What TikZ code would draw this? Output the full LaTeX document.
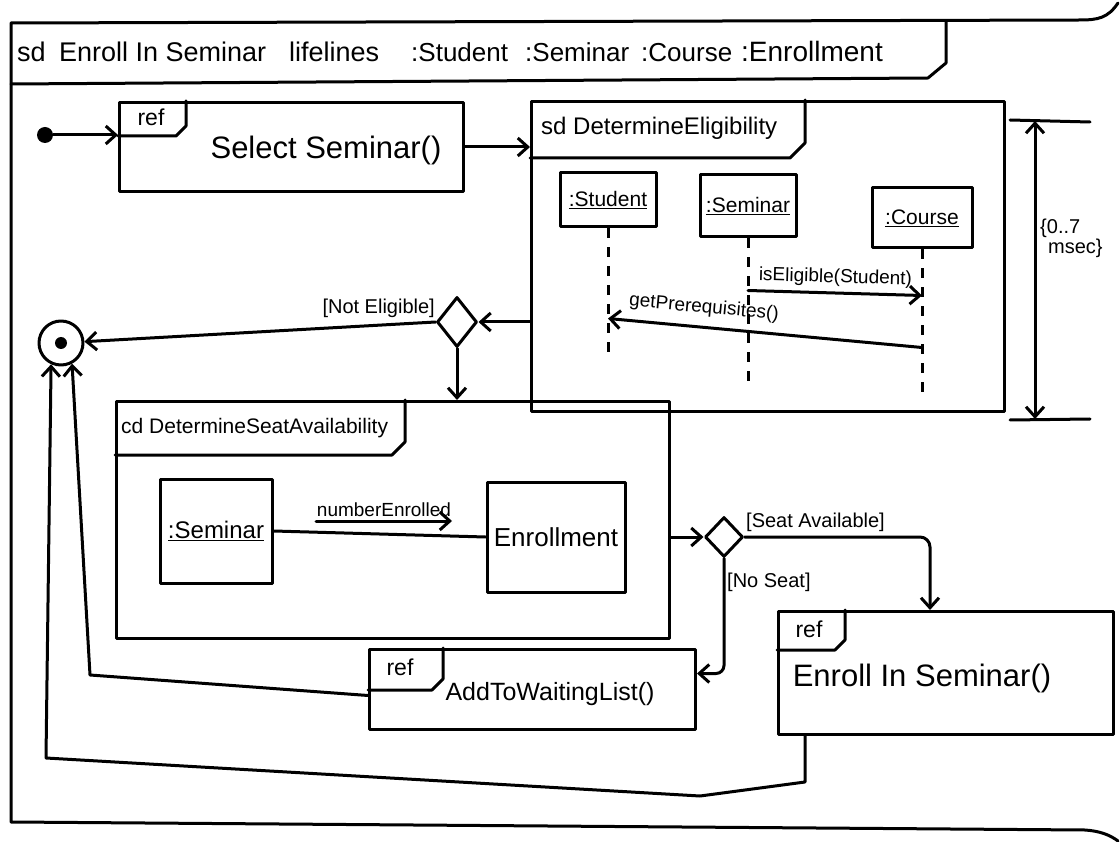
\documentclass[tikz,border=0pt]{standalone}
\usepackage{fontspec}
\setmainfont{Liberation Sans}
\usetikzlibrary{arrows.meta,shapes.geometric,calc}
\begin{document}
\begin{tikzpicture}[x=1pt,y=-1pt,
  ln/.style={line width=3pt, line cap=round, line join=round},
  arr/.style={ln, -{Straight Barb[length=10pt,width=18pt]}},
  larr/.style={ln, {Straight Barb[length=10pt,width=18pt]}-},
  darr/.style={ln, {Straight Barb[length=10pt,width=18pt]}-{Straight Barb[length=10pt,width=18pt]}},
  box/.style={draw, ln, rectangle, inner sep=0pt, anchor=north west},
  life/.style={ln, line cap=butt, dash pattern=on 10pt off 9pt},
  fs/.style={font=\fontsize{#1}{#1}\selectfont, inner sep=1pt},
  dec/.style={diamond, draw, ln, inner sep=0pt},
  hd/.style={fs=#1, anchor=base west},
]
\fill[white] (0,0) rectangle (1120,842);
\useasboundingbox (0,0) rectangle (1120,842);

% outer frame
\draw[ln] (1118,3) .. controls (1108,18) and (1098,20) .. (1080,20) -- (11,23) -- (11,822) -- (1085,830) .. controls (1100,831) and (1110,835) .. (1118,841);
\draw[ln] (11,84) -- (928,78) -- (946,63) -- (946,22);
\node[hd=27] (hsd) at (16,62) {sd};
\node[hd=27] (hname) at (58,62) {Enroll In Seminar};
\node[hd=27] (hlife) at (288,62) {lifelines};
\node[hd=26] (hstu) at (410,62) {:Student};
\node[hd=26] (hsem) at (524,62) {:Seminar};
\node[hd=26] (hcrs) at (640,62) {:Course};
\node[hd=28] (henr) at (740,62) {:Enrollment};

% initial node and Select Seminar
\node[circle, fill, minimum size=16pt, inner sep=0pt] (init) at (45,135) {};
\node[box, minimum width=344pt, minimum height=89pt] (sel) at (118,101) {};
\draw[ln] (118,136) -- (176,136) -- (186,126) -- (186,101);
\node[fs=23] (selref) at (151,117) {ref};
\node[fs=31] (seltxt) at (326,150) {Select Seminar()};
\draw[arr] (init) -- (init -| sel.west);

% sd DetermineEligibility
\node[box, minimum width=473pt, minimum height=310pt] (elig) at (530,100) {};
\draw[ln] (530,158) -- (790,158) -- (805,143) -- (805,100);
\node[fs=24, anchor=west] (eligtab) at (540,128) {sd DetermineEligibility};
\draw[arr] (sel.east) -- (sel.east -| elig.west);

\node[draw, ln, fs=21, minimum width=96pt, minimum height=54pt] (stu) at (608,200) {\underline{:Student}};
\node[draw, ln, fs=21, minimum width=96pt, minimum height=62pt] (sem) at (748,206) {\underline{:Seminar}};
\node[draw, ln, fs=21, minimum width=100pt, minimum height=60pt] (crs) at (922,218) {\underline{:Course}};
\draw[life] (stu.south) -- ++(0,125);
\draw[life] (sem.south) -- ++(0,148);
\draw[life] (crs.south) -- ++(0,152);
\draw[arr] ($(sem.south)+(0,52)$) -- node[fs=19, above=4pt, sloped] (m1) {isEligible(Student)} ($(crs.south)+(0,46)$);
\draw[larr] ($(stu.south)+(0,90)$) -- node[fs=19, pos=0.3, above=8pt, sloped] (m2) {getPrerequisites()} ($(crs.south)+(0,98)$);

% timing constraint
\coordinate (tt) at (1035,121);
\coordinate (tb) at (1035,419);
\coordinate (tl1) at (1010,120);
\coordinate (tr1) at (1090,122);
\coordinate (tl2) at (1010,420);
\coordinate (tr2) at (1090,419);
\draw[ln] (tl1) -- (tr1);
\draw[ln] (tl2) -- (tr2);
\draw[darr] (tt) -- (tb);
\node[fs=20, align=left, anchor=west] (tlbl) at (1039,238) {\{0..7\\\hspace*{8pt}msec\}};

% decision 1 and final node
\node[dec, minimum width=40pt, minimum height=50pt] (d1) at (457,322) {};
\draw[arr] (d1.east -| elig.west) -- (d1.east);
\node[fs=20, anchor=south east] (ne) at (436,319) {[Not Eligible]};
\node[circle, draw, ln, minimum size=44pt, inner sep=0pt] (final) at (61,343) {};
\node[circle, fill, minimum size=12pt, inner sep=0pt] (fdot) at (final) {};
\draw[arr] (d1.west) -- (final);

% cd DetermineSeatAvailability
\node[box, minimum width=553pt, minimum height=237pt] (cd) at (115,400) {};
\draw[arr] (d1.south) -- (d1.south |- cd.north);
\draw[ln] (115,455) -- (392,455) -- (405,442) -- (405,400);
\node[fs=21, anchor=west] (cdtab) at (120,428) {cd DetermineSeatAvailability};
\node[draw, ln, fs=24, minimum width=112pt, minimum height=104pt] (csem) at (216,531) {\underline{:Seminar}};
\node[draw, ln, fs=26, minimum width=138pt, minimum height=110pt] (cenr) at (556,537) {Enrollment};
\draw[ln] (csem.east) -- (cenr.west);
\coordinate (nb1) at (316,521);
\coordinate (nb2) at (452,521);
\draw[arr] (nb1) -- node[fs=19, above=2pt] (nblbl) {numberEnrolled} (nb2);

% decision 2
\node[dec, minimum width=38pt, minimum height=40pt] (d2) at (724,537) {};
\draw[arr] (d2.west -| cd.east) -- (d2.west);

% Enroll In Seminar
\node[box, minimum width=335pt, minimum height=123pt] (enr) at (777,610) {};
\draw[ln] (777,650) -- (835,650) -- (845,640) -- (845,610);
\node[fs=23] (enrref) at (809,629) {ref};
\node[fs=31] (enrtxt) at (922,678) {Enroll In Seminar()};
\draw[arr, rounded corners=10pt] (d2.east) -| ([xshift=-16pt]enr.north);
\node[fs=20, anchor=south west] (sa) at (745,533) {[Seat Available]};

% Add To Waiting List
\node[box, minimum width=326pt, minimum height=80pt] (wait) at (368,648) {};
\draw[ln] (368,690) -- (432,690) -- (443,679) -- (443,648);
\node[fs=23] (waitref) at (400,667) {ref};
\node[fs=25] (waittxt) at (550,694) {AddToWaitingList()};
\draw[arr, rounded corners=8pt] (d2.south) |- ([yshift=16pt]wait.east);
\node[fs=20, anchor=west] (ns) at (726,582) {[No Seat]};

% returns to final node
\coordinate (w1) at (90,675);
\draw[arr] ([yshift=-6pt]wait.west) -- (w1) -- (final.-62);
\coordinate (e1) at (805,782);
\coordinate (e2) at (700,796);
\coordinate (e3) at (46,758);
\draw[arr] ([xshift=28pt]enr.south west) -- (e1) -- (e2) -- (e3) -- (final.-115);
\end{tikzpicture}
\end{document}
